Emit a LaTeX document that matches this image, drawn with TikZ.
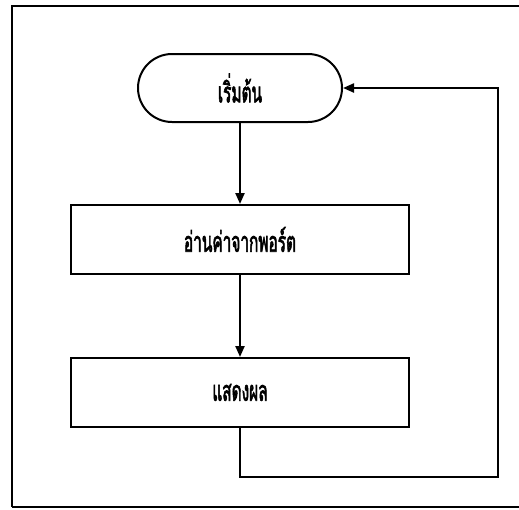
\documentclass[tikz,border=0pt]{standalone}
\usepackage{fontspec}
\newfontfamily\thaifont[Script=Thai,FakeBold=3]{Loma}
\usetikzlibrary{arrows.meta,shapes.misc}
\begin{document}
\begin{tikzpicture}[x=1pt,y=-1pt,
  line width=2pt,
  flowline/.style={draw=black,line width=2.2pt,-{Triangle[length=11pt,width=9pt]}},
  terminal/.style={draw,rounded rectangle,minimum width=204pt,minimum height=68pt,inner sep=0pt},
  process/.style={draw,rectangle,minimum width=338pt,minimum height=69pt,inner sep=0pt},
  thailabel/.style={font=\thaifont\fontsize{28pt}{30pt}\selectfont}]
  \useasboundingbox (0,0) rectangle (519,509);
  % outer frame
  \draw[line width=2.6pt] (12,507) -- (12,6) -- (522,6);
  \draw[line width=2pt] (12,507) -- (522,507);
  % flowchart boxes
  \node[terminal,thailabel] (start) at (240,88) {\scalebox{0.55}[1]{เริ่มต้น}};
  \node[process,thailabel] (read) at (240,239.5) {\scalebox{0.55}[1]{อ่านค่าจากพอร์ต}};
  \node[process,thailabel] (show) at (240,392.5) {\scalebox{0.55}[1]{แสดงผล}};
  % connectors
  \coordinate (c1) at (240,477);
  \coordinate (c2) at (498,477);
  \coordinate (c3) at (498,88);
  \draw[flowline] (start) -- (read);
  \draw[flowline] (read) -- (show);
  \draw[flowline] (show.south) -- (c1) -- (c2) -- (c3) -- (start.east);
\end{tikzpicture}
\end{document}
